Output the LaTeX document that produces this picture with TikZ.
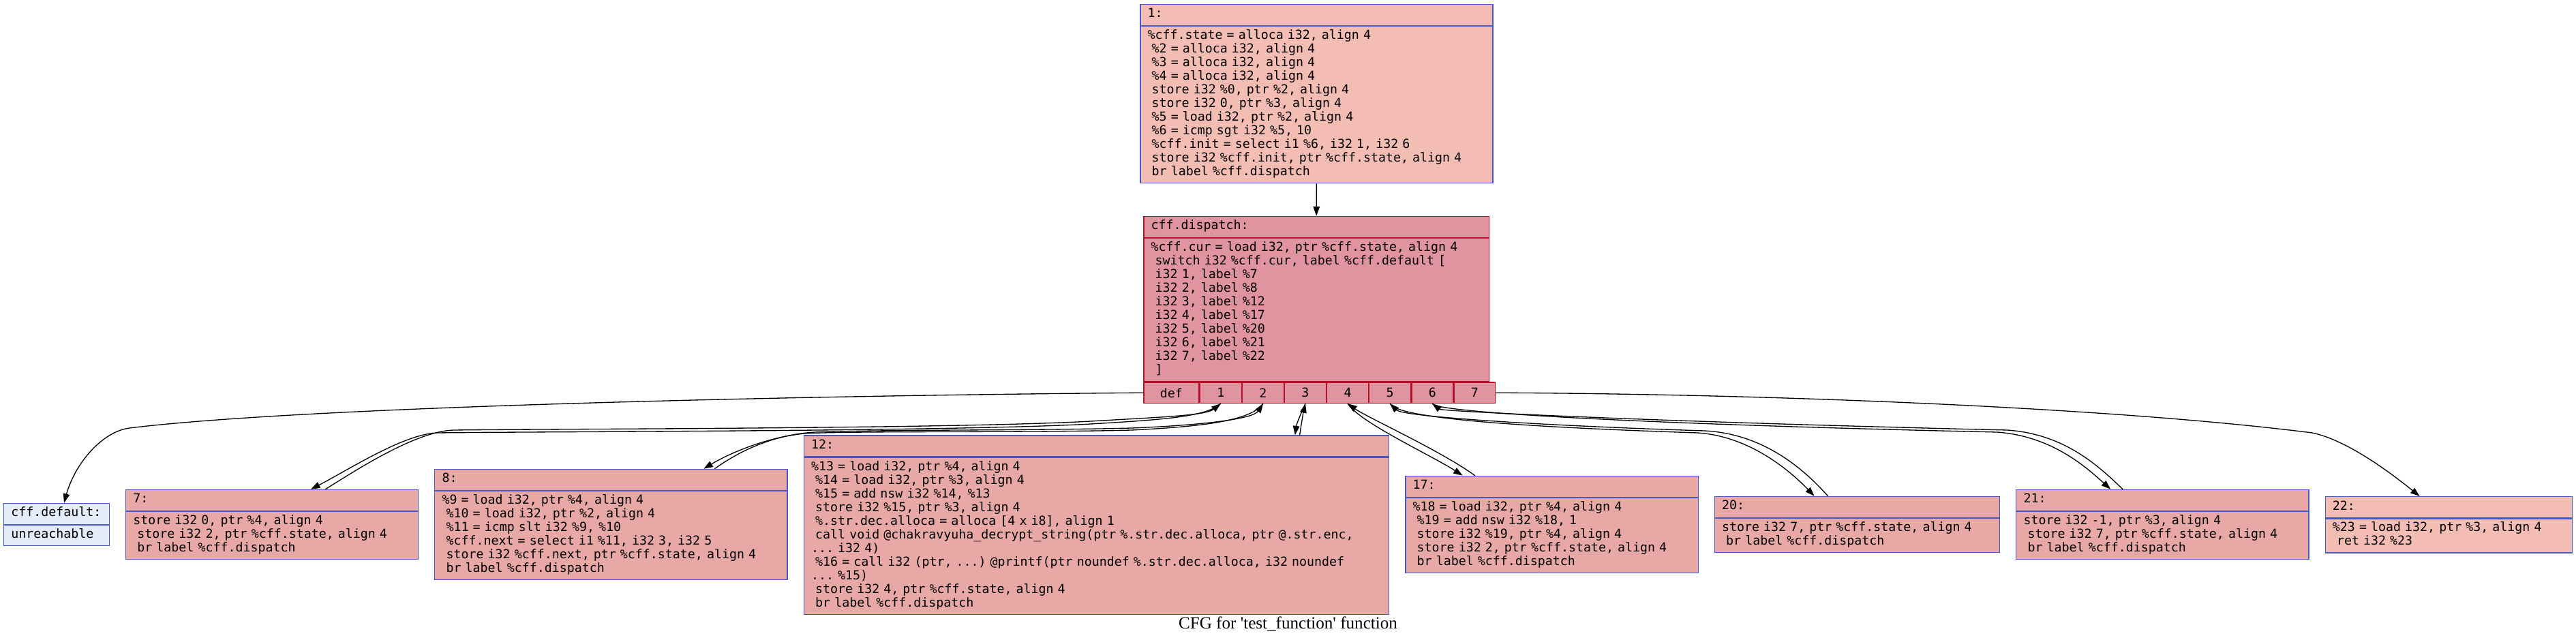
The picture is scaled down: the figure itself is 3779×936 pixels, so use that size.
\documentclass[tikz,border=0pt]{standalone}
\usepackage{fontspec}
\setmonofont{DejaVu Sans Mono}
\newfontfamily\capfamily{Liberation Serif}
\usetikzlibrary{positioning,arrows.meta}

\definecolor{hotline}{HTML}{B70D28}
\definecolor{hotfill}{HTML}{DF94A0}
\definecolor{coolline}{HTML}{4558C8}
\definecolor{midfill}{HTML}{E8A9A6}
\definecolor{warmfill}{HTML}{F3BDB3}
\definecolor{coldfill}{HTML}{E5ECF9}

\newcommand\blockfont{\ttfamily\fontsize{10.4}{11.38}\selectfont\frenchspacing\setlength\parindent{0pt}%
  \spaceskip=\fontcharwd\font`0\relax\xspaceskip=\spaceskip}
\newcommand\codeln[1]{\mbox{\strut#1}}

\tikzset{
  blockhead/.style={draw=coolline, line width=0.75pt, anchor=north west, minimum height=0.62cm,
    inner xsep=0.215cm, inner ysep=0pt, align=left, font=\blockfont},
  blockbody/.style={draw=coolline, line width=0.75pt, inner xsep=0.215cm, inner ysep=0.1cm,
    align=left, font=\blockfont},
  blockw/.style 2 args={minimum width=#1, text width=#2},
  port/.style={draw=hotline, fill=hotfill, line width=0.75pt, minimum width=1.216cm,
    minimum height=0.612cm, inner sep=0pt, font=\blockfont},
  cfgarrow/.style={line width=0.75pt, -{Triangle[length=0.27cm, width=0.19cm]}},
}

\begin{document}
\begin{tikzpicture}[x=0.02cm, y=-0.02cm]
\path[use as bounding box, fill=white] (0,0) rectangle (3779,936);

\node[blockhead, blockw={10.342cm}{9.912cm}, fill=warmfill] (entryh) at (1672.2,5.7) {\codeln{1:}};
\node[blockbody, blockw={10.342cm}{9.912cm}, fill=warmfill, below=0pt of entryh] (entry) {%
\codeln{\%cff.state = alloca i32, align 4}\\
\codeln{\ \%2 = alloca i32, align 4}\\
\codeln{\ \%3 = alloca i32, align 4}\\
\codeln{\ \%4 = alloca i32, align 4}\\
\codeln{\ store i32 \%0, ptr \%2, align 4}\\
\codeln{\ store i32 0, ptr \%3, align 4}\\
\codeln{\ \%5 = load i32, ptr \%2, align 4}\\
\codeln{\ \%6 = icmp sgt i32 \%5, 10}\\
\codeln{\ \%cff.init = select i1 \%6, i32 1, i32 6}\\
\codeln{\ store i32 \%cff.init, ptr \%cff.state, align 4}\\
\codeln{\ br label \%cff.dispatch}};

\node[blockhead, blockw={10.134cm}{9.704cm}, draw=hotline, fill=hotfill] (disph) at (1677.2,316.7) {\codeln{cff.dispatch:}};
\node[blockbody, blockw={10.134cm}{9.704cm}, draw=hotline, fill=hotfill, below=0pt of disph] (disp) {%
\codeln{\%cff.cur = load i32, ptr \%cff.state, align 4}\\
\codeln{\ switch i32 \%cff.cur, label \%cff.default [}\\
\codeln{\ i32 1, label \%7}\\
\codeln{\ i32 2, label \%8}\\
\codeln{\ i32 3, label \%12}\\
\codeln{\ i32 4, label \%17}\\
\codeln{\ i32 5, label \%20}\\
\codeln{\ i32 6, label \%21}\\
\codeln{\ i32 7, label \%22}\\
\codeln{\ ]}};
\node[port, minimum width=1.624cm, anchor=north west] (pdef) at (disp.south west) {def};
\node[port, right=0pt of pdef] (p1) {1};
\node[port, right=0pt of p1] (p2) {2};
\node[port, right=0pt of p2] (p3) {3};
\node[port, right=0pt of p3] (p4) {4};
\node[port, right=0pt of p4] (p5) {5};
\node[port, right=0pt of p5] (p6) {6};
\node[port, right=0pt of p6] (p7) {7};

\node[blockhead, blockw={3.1cm}{2.67cm}, fill=coldfill] (dflth) at (5,737.7) {\codeln{cff.default:}};
\node[blockbody, blockw={3.1cm}{2.67cm}, fill=coldfill, below=0pt of dflth] (dflt) {\codeln{unreachable}};

\node[blockhead, blockw={8.582cm}{8.152cm}, fill=midfill] (b7h) at (183.9,717.7) {\codeln{7:}};
\node[blockbody, blockw={8.582cm}{8.152cm}, fill=midfill, below=0pt of b7h] (b7) {%
\codeln{store i32 0, ptr \%4, align 4}\\
\codeln{\ store i32 2, ptr \%cff.state, align 4}\\
\codeln{\ br label \%cff.dispatch}};

\node[blockhead, blockw={10.348cm}{9.918cm}, fill=midfill] (b8h) at (637.1,687.7) {\codeln{8:}};
\node[blockbody, blockw={10.348cm}{9.918cm}, fill=midfill, below=0pt of b8h] (b8) {%
\codeln{\%9 = load i32, ptr \%4, align 4}\\
\codeln{\ \%10 = load i32, ptr \%2, align 4}\\
\codeln{\ \%11 = icmp slt i32 \%9, \%10}\\
\codeln{\ \%cff.next = select i1 \%11, i32 3, i32 5}\\
\codeln{\ store i32 \%cff.next, ptr \%cff.state, align 4}\\
\codeln{\ br label \%cff.dispatch}};

\node[blockhead, blockw={17.166cm}{16.736cm}, fill=midfill] (b12h) at (1178.7,638.3) {\codeln{12:}};
\node[blockbody, blockw={17.166cm}{16.736cm}, fill=midfill, below=0pt of b12h] (b12) {%
\codeln{\%13 = load i32, ptr \%4, align 4}\\
\codeln{\ \%14 = load i32, ptr \%3, align 4}\\
\codeln{\ \%15 = add nsw i32 \%14, \%13}\\
\codeln{\ store i32 \%15, ptr \%3, align 4}\\
\codeln{\ \%.str.dec.alloca = alloca [4 x i8], align 1}\\
\codeln{\ call void @chakravyuha\_decrypt\_string(ptr \%.str.dec.alloca, ptr @.str.enc,}\\
\codeln{... i32 4)}\\
\codeln{\ \%16 = call i32 (ptr, ...) @printf(ptr noundef \%.str.dec.alloca, i32 noundef}\\
\codeln{... \%15)}\\
\codeln{\ store i32 4, ptr \%cff.state, align 4}\\
\codeln{\ br label \%cff.dispatch}};

\node[blockhead, blockw={8.588cm}{8.158cm}, fill=midfill] (b17h) at (2061.2,697.7) {\codeln{17:}};
\node[blockbody, blockw={8.588cm}{8.158cm}, fill=midfill, below=0pt of b17h] (b17) {%
\codeln{\%18 = load i32, ptr \%4, align 4}\\
\codeln{\ \%19 = add nsw i32 \%18, 1}\\
\codeln{\ store i32 \%19, ptr \%4, align 4}\\
\codeln{\ store i32 2, ptr \%cff.state, align 4}\\
\codeln{\ br label \%cff.dispatch}};

\node[blockhead, blockw={8.366cm}{7.936cm}, fill=midfill] (b20h) at (2514.7,727.7) {\codeln{20:}};
\node[blockbody, blockw={8.366cm}{7.936cm}, fill=midfill, below=0pt of b20h] (b20) {%
\codeln{store i32 7, ptr \%cff.state, align 4}\\
\codeln{\ br label \%cff.dispatch}};

\node[blockhead, blockw={8.588cm}{8.158cm}, fill=midfill] (b21h) at (2957.1,717.7) {\codeln{21:}};
\node[blockbody, blockw={8.588cm}{8.158cm}, fill=midfill, below=0pt of b21h] (b21) {%
\codeln{store i32 -1, ptr \%3, align 4}\\
\codeln{\ store i32 7, ptr \%cff.state, align 4}\\
\codeln{\ br label \%cff.dispatch}};

\node[blockhead, blockw={7.252cm}{6.822cm}, fill=warmfill] (b22h) at (3410.5,728) {\codeln{22:}};
\node[blockbody, blockw={7.252cm}{6.822cm}, fill=warmfill, below=0pt of b22h] (b22) {%
\codeln{\%23 = load i32, ptr \%3, align 4}\\
\codeln{\ ret i32 \%23}};

\node[font=\capfamily\fontsize{14.3}{17}\selectfont, anchor=base] (title) at (1889.5,922) {CFG for 'test\_function' function};

\draw[cfgarrow] (entry.south) -- (disph.north);
\draw[cfgarrow] (pdef.west) .. controls (1200,580) and (450,596) .. (190,628)
  .. controls (150,633) and (110,680) .. ([shift={(10.8,0)}]dflth.north);
\draw[cfgarrow] (p1.south) .. controls (1770,612) and (1700,616) .. (1600,622)
  .. controls (1400,633) and (800,633) .. (640,635)
  .. controls (590,638) and (510,690) .. ([shift={(57,0)}]b7h.north);
\draw[cfgarrow] ([shift={(78.4,0)}]b7h.north) .. controls (525,688) and (610,633) .. (665,631)
  .. controls (820,629) and (1400,629) .. (1600,618)
  .. controls (1700,612) and (1768,610) .. (p1.south);
\draw[cfgarrow] (p2.south) .. controls (1835,618) and (1760,626) .. (1660,631)
  .. controls (1500,635) and (1250,632) .. (1180,636)
  .. controls (1120,642) and (1065,668) .. ([shift={(135.9,0)}]b8h.north);
\draw[cfgarrow] ([shift={(152,0)}]b8h.north) .. controls (1080,665) and (1130,638) .. (1195,634)
  .. controls (1300,630) and (1500,632) .. (1660,628)
  .. controls (1760,624) and (1838,615) .. (p2.south);
\draw[cfgarrow] (p3.south) .. controls (1909,605) and (1902,622) .. ([shift={(291.4,0)}]b12h.north);
\draw[cfgarrow] ([shift={(298.2,0)}]b12h.north) .. controls (1909,622) and (1912,605) .. (p3.south);
\draw[cfgarrow] (p4.south) .. controls (1995,620) and (2100,668) .. ([shift={(-130.9,0)}]b17h.north);
\draw[cfgarrow] ([shift={(-112.9,0)}]b17h.north) .. controls (2115,662) and (2005,612) .. (p4.south);
\draw[cfgarrow] (p5.south) .. controls (2050,615) and (2250,627) .. (2490,635)
  .. controls (2570,640) and (2630,695) .. ([shift={(-62.9,0)}]b20h.north);
\draw[cfgarrow] ([shift={(-43,0)}]b20h.north) .. controls (2648,690) and (2588,636) .. (2500,632)
  .. controls (2250,624) and (2058,611) .. (p5.south);
\draw[cfgarrow] (p6.south) .. controls (2105,605) and (2400,622) .. (2930,634)
  .. controls (3010,640) and (3060,685) .. ([shift={(-76.3,0)}]b21h.north);
\draw[cfgarrow] ([shift={(-58.4,0)}]b21h.north) .. controls (3080,685) and (3030,637) .. (2945,631)
  .. controls (2400,618) and (2115,603) .. (p6.south);
\draw[cfgarrow] (p7.east) .. controls (2600,578) and (3100,598) .. (3392,635)
  .. controls (3440,645) and (3500,688) .. ([shift={(-42.8,0)}]b22h.north);
\end{tikzpicture}
\end{document}
